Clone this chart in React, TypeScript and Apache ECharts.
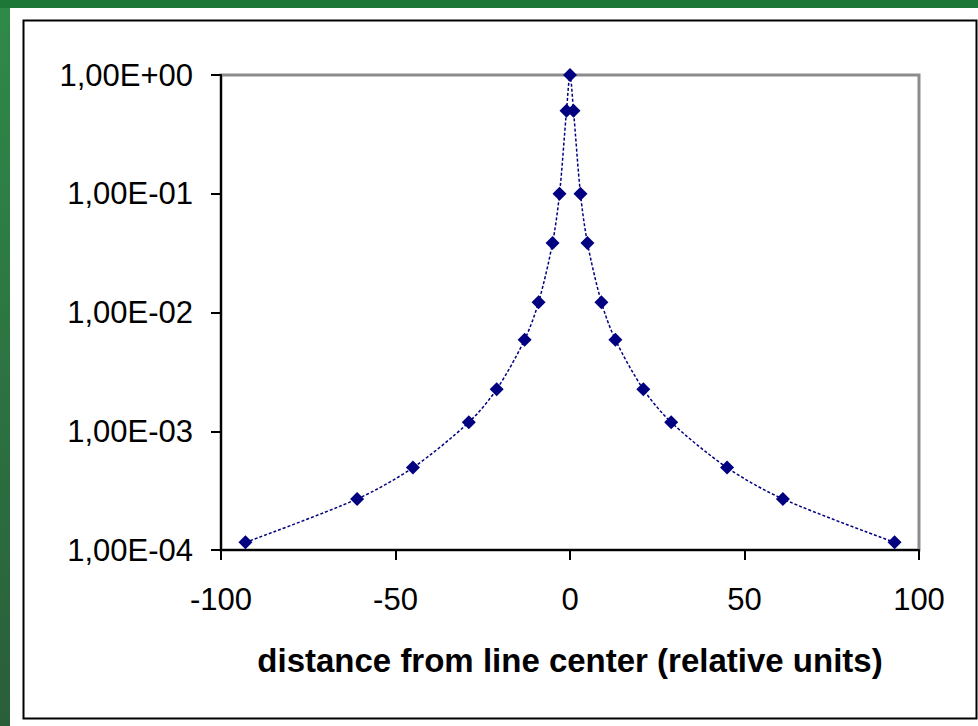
import React, { useEffect, useRef } from "react";
import * as echarts from "echarts";

// Line profile: distance from line center vs. relative intensity
const distances = [-93, -61, -45, -29, -21, -13, -9, -5, -3, -1, 0, 1, 3, 5, 9, 13, 21, 29, 45, 61, 93];
const intensities = [
  0.000116, 0.000269, 0.000494, 0.00119, 0.00226, 0.0059, 0.0122, 0.0385, 0.1, 0.5, 1,
  0.5, 0.1, 0.0385, 0.0122, 0.0059, 0.00226, 0.00119, 0.000494, 0.000269, 0.000116,
];
const xTicks = { min: -100, max: 100, step: 50 };
const yRange = { min: 1e-4, max: 1 };
const xTitle = "distance from line center (relative units)";

function sciLabel(v: number): string {
  const exp = Math.round(Math.log10(v));
  const mant = v / Math.pow(10, exp);
  const sign = exp < 0 ? "-" : "+";
  return mant.toFixed(2).replace(".", ",") + "E" + sign + String(Math.abs(exp)).padStart(2, "0");
}

export default function App() {
  const ref = useRef<HTMLDivElement>(null);

  useEffect(() => {
    if (!ref.current) return;
    const chart = echarts.init(ref.current, null, { renderer: "svg" });
    const font = "Liberation Sans, Arial, sans-serif";
    chart.setOption({
      animation: false,
      backgroundColor: "#ffffff",
      graphic: [
        {
          type: "rect",
          z: -10,
          shape: { x: 0, y: 0, width: 978, height: 726 },
          style: {
            fill: new echarts.graphic.LinearGradient(0, 0, 0, 1, [
              { offset: 0, color: "#2f8a49" },
              { offset: 1, color: "#2a5e3a" },
            ]),
          },
          silent: true,
        },
        {
          type: "rect",
          z: -9,
          shape: { x: 0, y: 0, width: 978, height: 8 },
          style: { fill: "#1d7736" },
          silent: true,
        },
        {
          type: "rect",
          z: -8,
          shape: { x: 10, y: 8, width: 968, height: 718 },
          style: { fill: "#ffffff" },
          silent: true,
        },
        {
          type: "rect",
          z: -7,
          shape: { x: 23.5, y: 20.5, width: 953, height: 698 },
          style: { fill: "#ffffff", stroke: "#000000", lineWidth: 2 },
          silent: true,
        },
      ],
      grid: {
        left: 221,
        top: 75,
        right: 59,
        bottom: 176,
        show: true,
        borderColor: "#8c8c8c",
        borderWidth: 3,
        backgroundColor: "transparent",
      },
      xAxis: {
        type: "value",
        min: xTicks.min,
        max: xTicks.max,
        interval: xTicks.step,
        name: xTitle,
        nameLocation: "middle",
        nameGap: 94,
        nameTextStyle: { fontFamily: font, fontSize: 33, fontWeight: "bold", color: "#000" },
        axisLine: { show: true, onZero: false, lineStyle: { color: "#000", width: 2 } },
        axisTick: { show: true, inside: false, length: 10, lineStyle: { color: "#000", width: 2 } },
        axisLabel: { fontFamily: font, fontSize: 31, color: "#000", margin: 34 },
        splitLine: { show: false },
      },
      yAxis: {
        type: "log",
        logBase: 10,
        min: yRange.min,
        max: yRange.max,
        axisLine: { show: true, onZero: false, lineStyle: { color: "#000", width: 2 } },
        axisTick: { show: true, inside: false, length: 10, lineStyle: { color: "#000", width: 2 } },
        axisLabel: {
          fontFamily: font,
          fontSize: 31,
          color: "#000",
          margin: 28,
          formatter: (v: number) => sciLabel(v),
        },
        splitLine: { show: false },
        minorTick: { show: false },
      },
      series: [
        {
          type: "line",
          data: distances.map((d, i) => [d, intensities[i]]),
          smooth: 0.3,
          symbol: "diamond",
          symbolSize: 14,
          itemStyle: { color: "#000080" },
          lineStyle: { color: "#000080", width: 1.5, type: [3, 2] },
        },
      ],
    });
    return () => chart.dispose();
  }, []);

  return (
    <div
      ref={ref}
      style={{ position: "fixed", left: 0, top: 0, width: 978, height: 726 }}
    />
  );
}
